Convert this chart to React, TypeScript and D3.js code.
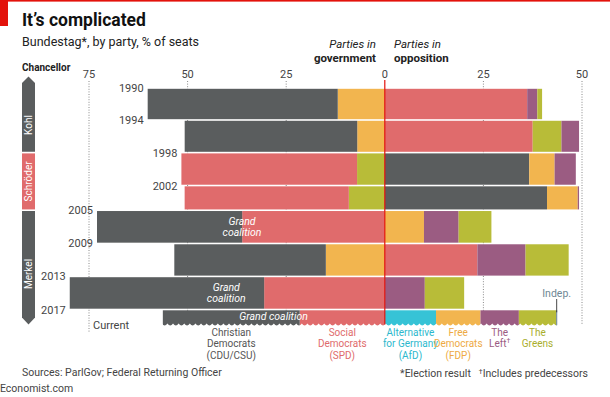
import React from "react";
import * as d3 from "d3";

const years = ["1990", "1994", "1998", "2002", "2005", "2009", "2013", "2017"];
const electionDates = ["1990-12-02", "1994-10-16", "1998-09-27", "2002-09-22", "2005-09-18", "2009-09-27", "2013-09-22", "2017-09-24"];
const currentEnd = "2019-06-01";

const govParties = [["FDP", "CDU"], ["FDP", "CDU"], ["Greens", "SPD"], ["Greens", "SPD"], ["SPD", "CDU"], ["FDP", "CDU"], ["SPD", "CDU"], ["SPD", "CDU"]];
const govSeats = [[11.93, 48.19], [6.99, 43.75], [7.03, 44.54], [9.12, 41.63], [36.16, 36.81], [14.95, 38.42], [30.59, 49.29], [21.58, 34.7]];
const oppParties = [["SPD", "Left", "Greens"], ["SPD", "Greens", "Left"], ["CDU", "FDP", "Left"], ["CDU", "FDP", "Left"], ["FDP", "Left", "Greens"], ["SPD", "Left", "Greens"], ["Left", "Greens"], ["AfD", "FDP", "Left", "Greens", "Indep"]];
const oppSeats = [[36.1, 2.57, 1.21], [37.5, 7.29, 4.46], [36.62, 6.43, 5.38], [41.13, 7.79, 0.33], [9.93, 8.79, 8.31], [23.47, 12.22, 10.93], [10.14, 9.98], [12.98, 11.28, 9.73, 9.45, 0.28]];

const chancellors = ["Kohl", "Schröder", "Merkel"];
const chancellorEnds = ["1998-09-27", "2005-09-18", currentEnd];

const tickValues = [-75, -50, -25, 0, 25, 50];

const coalitionRows = [4, 6, 7];
const coalitionAt = [-36.2, -40.2, -28.2];

const legendParties = ["CDU", "SPD", "AfD", "FDP", "Left", "Greens"];
const legendLabels = [["Christian", "Democrats", "(CDU/CSU)"], ["Social", "Democrats", "(SPD)"], ["Alternative", "for Germany", "(AfD)"], ["Free", "Democrats", "(FDP)"], ["The", "Left"], ["The", "Greens"]];

const colors: Record<string, string> = {
  CDU: "#5a5d5e",
  SPD: "#e06b6c",
  FDP: "#f2b54f",
  Greens: "#b8bc38",
  Left: "#9b5c82",
  AfD: "#36c3d6",
  Indep: "#6f8794",
};
const textColors: Record<string, string> = {
  CDU: "#555555",
  SPD: "#e06b6c",
  FDP: "#eeaa44",
  Greens: "#a9ae2c",
  Left: "#9b5c82",
  AfD: "#2cb8cd",
};

const FONT = "Roboto, 'Noto Sans', sans-serif";

export default function App() {
  const W = 610, H = 397;
  const parse = d3.timeParse("%Y-%m-%d");
  const dates = electionDates.map((d) => parse(d) as Date);
  const endDate = parse(currentEnd) as Date;
  const y = d3.scaleTime().domain([dates[0], dates[7]]).range([88, 309.5]);
  const x = d3.scaleLinear().domain([-75, 50]).range([89, 582]);

  const rowTop = (i: number) => y(dates[i]) + 0.8;
  const rowBot = (i: number) => (i < 7 ? y(dates[i + 1]) - 0.8 : y(endDate));
  const leftEdge = (i: number) => x(-d3.sum(govSeats[i]));

  const segs: { key: string; x0: number; x1: number; y0: number; y1: number; row: number }[] = [];
  years.forEach((_, i) => {
    let acc = 0;
    govParties[i].forEach((p, j) => {
      const a = acc, b = acc + govSeats[i][j];
      segs.push({ key: p, x0: x(-b), x1: x(-a), y0: rowTop(i), y1: rowBot(i) + (i === 7 ? 3 : 0), row: i });
      acc = b;
    });
    acc = 0;
    oppParties[i].forEach((p, j) => {
      const a = acc, b = acc + oppSeats[i][j];
      segs.push({ key: p, x0: x(a), x1: x(b), y0: rowTop(i), y1: rowBot(i) + (i === 7 ? 3 : 0), row: i });
      acc = b;
    });
  });

  // wave mask for the current row
  const wy = rowBot(7);
  const wx0 = leftEdge(7) - 1;
  const wx1 = x(d3.sum(oppSeats[7])) + 1;
  const period = 5.6;
  let wave = `M${wx0},${wy + 6} L${wx0},${wy}`;
  for (let xx = wx0; xx < wx1; xx += period) {
    const nx = Math.min(xx + period, wx1 + period);
    wave += ` Q${xx + period / 2},${wy + 4.2} ${nx},${wy}`;
  }
  wave += ` L${wx1 + period},${wy + 6} Z`;

  // chancellor band
  const cx0 = 22, cx1 = 35, cmid = (cx0 + cx1) / 2;
  const kTop = y(dates[0]) - 5;
  const bandBounds = [kTop, ...chancellorEnds.map((d) => y(parse(d) as Date))];

  const curSegs = segs.filter((s) => s.row === 7);
  const indepSeg = curSegs.find((s) => s.key === "Indep")!;

  return (
    <svg width={W} height={H} style={{ position: "absolute", left: 0, top: 0, background: "#fff" }} fontFamily={FONT}>
      <rect x={0} y={0} width={W} height={H} fill="#fff" />
      <rect x={0} y={0} width={W} height={1.6} fill="#e3120b" />
      <rect x={0} y={0} width={8} height={26} fill="#e3120b" />
      <text x={22} y={26} fontSize={17.5} fontWeight={700} fill="#111">It’s complicated</text>
      <text x={22} y={46} fontSize={12.5} fill="#222">Bundestag*, by party, % of seats</text>

      <text x={376} y={48} fontSize={11.5} fontStyle="italic" textAnchor="end" fill="#222">Parties in</text>
      <text x={376} y={62} fontSize={11.5} fontWeight={700} textAnchor="end" fill="#222">government</text>
      <text x={394} y={48} fontSize={11.5} fontStyle="italic" fill="#222">Parties in</text>
      <text x={394} y={62} fontSize={11.5} fontWeight={700} fill="#222">opposition</text>

      <text x={22} y={71} fontSize={10} fontWeight={700} fill="#222">Chancellor</text>

      {tickValues.map((t) => (
        <g key={t}>
          <text x={x(t)} y={78} fontSize={11} textAnchor="middle" fill="#444">{Math.abs(t)}</text>
          {t !== 0 && (
            <line x1={x(t)} x2={x(t)} y1={81} y2={t === -75 ? 333 : 325} stroke="#8a8a8a" strokeWidth={1} strokeDasharray="1,1.6" />
          )}
        </g>
      ))}

      {segs.map((s, k) => (
        <rect key={k} x={s.x0} y={s.y0} width={Math.max(0, s.x1 - s.x0)} height={s.y1 - s.y0} fill={colors[s.key]} />
      ))}
      <path d={wave} fill="#fff" />

      <line x1={x(0)} x2={x(0)} y1={80} y2={wy + 1} stroke="#e3120b" strokeWidth={1.2} />

      <line x1={(indepSeg.x0 + indepSeg.x1) / 2} x2={(indepSeg.x0 + indepSeg.x1) / 2} y1={299} y2={rowTop(7) + 2} stroke="#333" strokeWidth={0.9} />
      <text x={(indepSeg.x0 + indepSeg.x1) / 2} y={296.5} fontSize={10.5} textAnchor="middle" fill="#6f8794">Indep.</text>

      {coalitionRows.map((r, k) => {
        const cx = x(coalitionAt[k]);
        if (r === 7) {
          return (
            <text key={k} x={cx} y={rowTop(r) + 9.5} fontSize={10.5} fontStyle="italic" textAnchor="middle" fill="#fff">Grand coalition</text>
          );
        }
        const mid = (rowTop(r) + rowBot(r)) / 2;
        return (
          <g key={k}>
            <text x={cx} y={mid - 2} fontSize={10.5} fontStyle="italic" textAnchor="middle" fill="#fff">Grand</text>
            <text x={cx} y={mid + 9.5} fontSize={10.5} fontStyle="italic" textAnchor="middle" fill="#fff">coalition</text>
          </g>
        );
      })}

      {years.map((yr, i) => {
        const edges = [leftEdge(i)];
        if (i > 0) edges.push(leftEdge(i - 1));
        const lx = Math.min(...edges) - 4;
        return (
          <text key={yr} x={lx} y={y(dates[i]) + 4} fontSize={11} textAnchor="end" fill="#444">{yr}</text>
        );
      })}
      <text x={93} y={329} fontSize={11} fill="#444">Current</text>

      {chancellors.map((c, i) => {
        const t = bandBounds[i] + (i === 0 ? 0 : 0.8);
        const b = bandBounds[i + 1] - (i === 2 ? 0 : 0.8);
        const fill = c === "Schröder" ? colors.SPD : colors.CDU;
        let d: string;
        if (i === 0) d = `M${cx0},${t} L${cmid},${t - 6.5} L${cx1},${t} L${cx1},${b} L${cx0},${b} Z`;
        else if (i === 2) d = `M${cx0},${t} L${cx1},${t} L${cx1},${b - 6} L${cmid},${b + 1} L${cx0},${b - 6} Z`;
        else d = `M${cx0},${t} L${cx1},${t} L${cx1},${b} L${cx0},${b} Z`;
        const my = i === 0 ? 125 : i === 2 ? 274 : (t + b) / 2;
        return (
          <g key={c}>
            <path d={d} fill={fill} />
            <text transform={`translate(${cmid + 3.6},${my}) rotate(-90)`} fontSize={10} textAnchor="middle" fill="#fff">{c}</text>
          </g>
        );
      })}

      {legendParties.map((p, k) => {
        const s = curSegs.find((q) => q.key === p)!;
        const cx = (s.x0 + s.x1) / 2;
        return (
          <text key={p} x={cx} textAnchor="middle" fontSize={10} fill={textColors[p]}>
            {legendLabels[k].map((ln, j) => (
              <tspan key={j} x={cx} y={335.5 + j * 11.5}>
                {ln}
                {p === "Left" && j === 1 ? <tspan fontSize={7} dy={-4}>†</tspan> : null}
              </tspan>
            ))}
          </text>
        );
      })}

      <text x={22} y={376} fontSize={10.5} fill="#444">Sources: ParlGov; Federal Returning Officer</text>
      <text x={0} y={392} fontSize={10.5} fill="#444">Economist.com</text>
      <text x={588} y={377} fontSize={10.5} textAnchor="end" fill="#444">
        *Election result
        <tspan dx={8} fontSize={7} dy={-3}>†</tspan>
        <tspan dy={3}>Includes predecessors</tspan>
      </text>
    </svg>
  );
}
